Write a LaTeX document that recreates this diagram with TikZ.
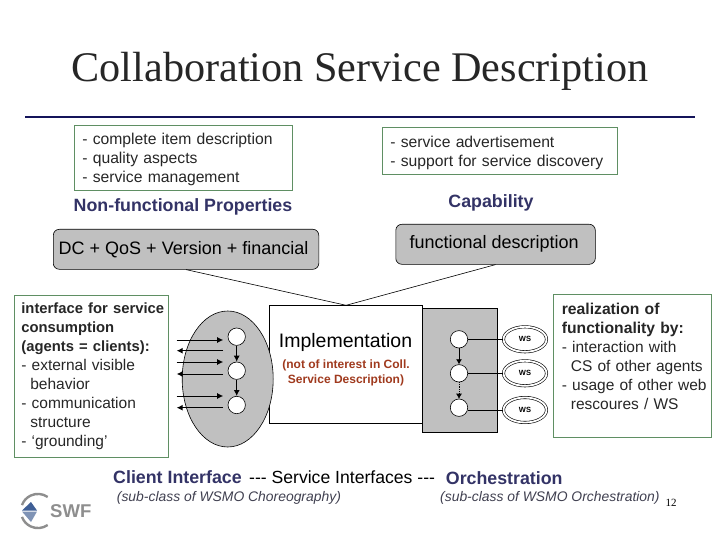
\documentclass[tikz,border=0pt]{standalone}
\usepackage{fontspec}
\setmainfont{Liberation Sans}
\newfontfamily\titlefont{Liberation Serif}
\usetikzlibrary{
    calc,
    positioning,
    shapes.geometric,
    arrows.meta}
\definecolor{navy}{HTML}{333366}
\definecolor{rulenavy}{HTML}{14145A}
\definecolor{boxgreen}{HTML}{5F8F63}
\definecolor{fillgray}{HTML}{C0C0C0}
\definecolor{notered}{HTML}{A03A1E}
\definecolor{subgray}{HTML}{404050}
\definecolor{logogray}{HTML}{8E8E8E}
\definecolor{logoblue}{HTML}{3F5F96}
\definecolor{logopale}{HTML}{7F93B5}
\newcommand{\bodyfont}{\fontsize{15.5}{19}\selectfont}
\newcommand{\notefont}{\fontsize{15.7}{19}\selectfont}
\newcommand{\boldfont}{\fontsize{14.8}{19}\selectfont\bfseries}
\newcommand{\bigfont}{\fontsize{18}{20}\selectfont}
\newcommand{\topstrut}{\rule{0pt}{15pt}}
\tikzset{notebox/.style={draw=boxgreen, line width=0.7pt, anchor=north west, align=left, inner sep=0pt, text=black!85}}
\tikzset{graybox/.style={draw=black, rounded corners=6pt, fill=fillgray, anchor=north west, line width=0.6pt, inner sep=0pt}}
\tikzset{headline/.style={text=navy, font=\fontsize{17.8}{20}\selectfont\bfseries, inner sep=0pt}}
\tikzset{subline/.style={text=subgray, font=\fontsize{13.9}{16}\selectfont\itshape, inner sep=0pt}}
\tikzset{stepdot/.style={circle, draw=black, fill=white, line width=0.6pt, minimum size=17.4pt, inner sep=0pt}}
\tikzset{wsnode/.style={ellipse, draw=black, double=white, double distance=1.8pt, line width=0.6pt, minimum width=43pt, minimum height=25pt, inner sep=0pt, font=\fontsize{7.5}{8}\selectfont\bfseries}}
\tikzset{flow/.style={-{Latex[length=6pt,width=6pt]}, line width=1pt}}

\begin{document}
\begin{tikzpicture}[x=1pt, y=-1pt]

    \useasboundingbox (0,0) rectangle (720,540);

    % title
    \node(title)[font=\titlefont\fontsize{42.2}{46}\selectfont, text=black!85, inner sep=0pt] at (360,71.5){Collaboration Service Description};
    \coordinate(ruleL) at (25,117);
    \coordinate(ruleR) at (695,117);
    \draw[draw=rulenavy, line width=2pt] (ruleL) -- (ruleR);

    % top notes
    \node(nfpnote)[notebox, minimum width=218pt, minimum height=65pt, text width=202pt, font=\notefont] at (74,125){\topstrut- complete item description\\- quality aspects\\- service management};
    \node(capnote)[notebox, minimum width=235pt, minimum height=47pt, text width=219pt, font=\notefont] at (382,127){\topstrut- service advertisement\\- support for service discovery};

    % headlines
    \node(nfp)[headline] at (183,206.5){Non-functional Properties};
    \node(cap)[headline] at (491,202.5){Capability};

    % gray boxes
    \node(nfpbox)[graybox, minimum width=265.5pt, minimum height=40pt, font=\bigfont] at (53,229){DC + QoS + Version + financial\hspace*{5pt}};
    \node(capbox)[graybox, minimum width=199.5pt, minimum height=40pt, font=\bigfont] at (395.5,224){functional description\hspace*{3pt}};

    % middle, gray rectangle goes first
    \node(orchbox)[draw=black, fill=fillgray, line width=0.6pt, anchor=north west, minimum width=74.4pt, minimum height=124pt, inner sep=0pt] at (422.3,308.3){};
    \node(impl)[draw=black, fill=white, line width=0.6pt, anchor=north west, minimum width=153pt, minimum height=118pt, inner sep=0pt] at (269.3,305.3){};
    \node(impltext)[font=\fontsize{19.5}{22}\selectfont, inner sep=0pt] at (345.5,342){Implementation};
    \node(implnote)[font=\fontsize{12}{15}\selectfont\bfseries, text=notered, align=center, inner sep=0pt] at (346,372.5){(not of interest in Coll.\\Service Description)};

    \draw[line width=0.6pt] (nfpbox.south) -- (impl.north);
    \draw[line width=0.6pt] (capbox.south) -- (impl.north);

    % client interface
    \node(choreo)[ellipse, draw=black, fill=fillgray, line width=0.6pt, minimum width=91pt, minimum height=136pt, inner sep=0pt] at (227.7,379){};
    \node(c1)[stepdot] at (236.7,336.7){};
    \node(c2)[stepdot] at (236.7,370.7){};
    \node(c3)[stepdot] at (236.7,405){};
    \draw[flow] (c1) -- (c2);
    \draw[flow] (c2) -- (c3);
    \foreach \n/\inshift/\outshift in {c1/-3.3/-14, c2/8.7/-3.3, c3/9/-2.7}{
        \coordinate(\n inA) at ([xshift=-60pt, yshift=\inshift pt]\n.center);
        \coordinate(\n inB) at ([xshift=-13.5pt, yshift=\inshift pt]\n.center);
        \coordinate(\n outA) at ([xshift=-13.5pt, yshift=\outshift pt]\n.center);
        \coordinate(\n outB) at ([xshift=-60pt, yshift=\outshift pt]\n.center);
        \draw[flow] (\n inA) -- (\n inB);
        \draw[flow] (\n outA) -- (\n outB);
    }

    % orchestration
    \node(o1)[stepdot] at (459,339.3){};
    \node(o2)[stepdot] at (459,373.3){};
    \node(o3)[stepdot] at (459,407.7){};
    \draw[-{Latex[length=5pt,width=6pt]}, line width=0.7pt] (o1) -- (o2);
    \draw[-{Latex[length=5pt,width=6pt]}, line width=0.7pt, densely dotted] (o2) -- (o3);
    \node(ws1)[wsnode] at (525,339.3){WS};
    \node(ws2)[wsnode] at (525,373.3){WS};
    \node(ws3)[wsnode] at (525,410){WS};
    \draw[line width=0.6pt] (o1) -- (ws1);
    \draw[line width=0.6pt] (o2) -- (ws2);
    \draw[line width=0.6pt] (ws3.west -| o3.east) -- (ws3.west);

    % side notes
    \node(clientnote)[notebox, minimum width=153.4pt, minimum height=161.7pt, text width=152pt, font=\bodyfont] at (14.3,295){\hspace*{6pt}{\boldfont interface for service}\\\hspace*{6pt}{\boldfont consumption}\\\hspace*{6pt}{\boldfont (agents = clients):}\\\hspace*{6pt}- external visible\\\hspace*{15pt}behavior\\\hspace*{6pt}- communication\\\hspace*{15pt}structure\\\hspace*{6pt}- `grounding'};
    \node(orchnote)[notebox, minimum width=157.4pt, minimum height=143pt, text width=149pt, font=\bodyfont] at (553.3,294.3){\hspace*{4pt}{\fontsize{15.7}{19}\selectfont\bfseries realization of}\\\hspace*{4pt}{\fontsize{15.7}{19}\selectfont\bfseries functionality by:}\\\hspace*{4pt}- interaction with\\\hspace*{13pt}CS of other agents\\\hspace*{4pt}- usage of other web\\\hspace*{13pt}rescoures / WS\\\mbox{}};

    % bottom labels
    \node(client)[headline, anchor=west] at (113,477){Client Interface};
    \node(serv)[anchor=west, font=\fontsize{17.6}{20}\selectfont, inner sep=0pt, right=7pt of client.east]{-{}-{}- Service Interfaces -{}-{}-};
    \node(orch)[headline, anchor=west] at (445.7,478.5){Orchestration};
    \node(clientsub)[subline, anchor=west] at (116.7,498){(sub-class of WSMO Choreography)};
    \node(orchsub)[subline, anchor=west] at (440,498){(sub-class of WSMO Orchestration)};
    \node(pagenum)[font=\titlefont\fontsize{11}{12}\selectfont, inner sep=0pt] at (671,503){12};

    % logo
    \node(swf)[font=\fontsize{18.5}{20}\selectfont\bfseries, text=logogray, anchor=west, inner sep=0pt] at (50,511){SWF};
    \fill[logoblue] (22,510.5) -- (31,502) -- (37,510.5) -- cycle;
    \fill[logopale] (22,511.5) -- (31,522) -- (37,511.5) -- cycle;
    \draw[logogray, line width=2.4pt] (47.7,497) arc[start angle=55, end angle=160, radius=17pt];
    \draw[logogray, line width=2.4pt] (47.7,525) arc[start angle=-55, end angle=-160, radius=17pt];

\end{tikzpicture}
\end{document}
